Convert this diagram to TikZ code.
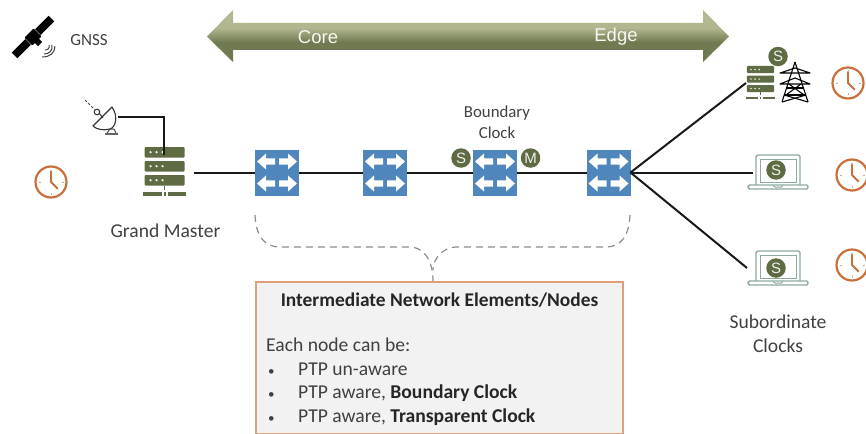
\documentclass[tikz,border=0pt]{standalone}
\usepackage{fontspec}
\setmainfont{Carlito}
\newfontfamily\arialface{Liberation Sans}
\usetikzlibrary{calc}
\definecolor{olivedk}{HTML}{5F6B42}
\definecolor{barlt}{HTML}{B3B78F}
\definecolor{bardk}{HTML}{6F7A50}
\definecolor{swblue}{HTML}{4F86BC}
\definecolor{clockor}{HTML}{C8703A}
\definecolor{lapgr}{HTML}{8FA8A0}
\definecolor{txtgr}{HTML}{404040}
\definecolor{boxedge}{HTML}{DE9F7C}
\definecolor{boxfill}{HTML}{F2F2F2}
\definecolor{dashgr}{HTML}{8C8C8C}
\pgfdeclareverticalshading{olivebar}{100bp}{color(0bp)=(bardk); color(44bp)=(bardk); color(58bp)=(barlt); color(100bp)=(barlt)}
\tikzset{
  x=1pt,y=-1pt,
  link/.style={draw=black!90,line width=2pt},
  anchorbox/.style={inner sep=0pt,outer sep=0pt,minimum width=#1,minimum height=10pt},
  switchbox/.style={fill=swblue,draw=none,inner sep=0pt,outer sep=0pt,minimum width=44pt,minimum height=46pt},
  label/.style={text=txtgr,font=\fontsize{19.6}{24}\selectfont,align=center,inner sep=0pt},
  boxtext/.style={text=txtgr,font=\fontsize{19.6}{23}\selectfont,anchor=base west,inner sep=0pt},
  badge/.style={circle,fill=olivedk,draw=none,minimum size=19.5pt,inner sep=0pt,text=white!90!olivedk,font=\arialface\fontsize{15}{15}\selectfont},
  clockpic/.pic={
    \draw[clockor,line width=2.2pt] (0,0) circle (15.5);
    \draw[clockor,line width=1.8pt,line join=round,line cap=round] (0,-11)--(0,0)--(6.5,6.5);
    \foreach \a in {0,90,180,270}{\draw[clockor!60,line width=.8pt] (\a:10.5)--(\a:12.5);}
  },
  serverpic/.pic={
    \foreach \yy in {-25,-11,3}{
      \fill[olivedk,rounded corners=1pt] (-20,\yy) rectangle (20,\yy+10.5);
      \foreach \xx in {-14,-8,-2}{\fill[white!85!olivedk] (\xx,\yy+5.2) circle (1.3);}
    }
    \draw[olivedk,line width=1.3pt] (0,13.5)--(0,18);
    \fill[olivedk] (-21.5,20) rectangle (-3,23.5);
    \fill[olivedk] (3,20) rectangle (21.5,23.5);
    \fill[olivedk] (-1,20) rectangle (1,23.5);
  },
  switchpic/.pic={
    \foreach \sx/\sy in {-1/-1,1/-1,-1/1,1/1}{
      \begin{scope}[shift={(\sx*11,\sy*11)},xscale=-\sx]
        \fill[white] (9,-3.2)--(0,-3.2)--(0,-8)--(-9,0)--(0,8)--(0,3.2)--(9,3.2)--cycle;
      \end{scope}
    }
  },
  laptoppic/.pic={
    \draw[lapgr,line width=1.4pt,rounded corners=1.5pt] (-22,15)--(-22,-15)--(22,-15)--(22,15);
    \draw[lapgr,line width=1pt] (-18,-11) rectangle (18,12);
    \draw[lapgr,line width=1.4pt,rounded corners=1.5pt,fill=white] (-30,15) rectangle (30,19);
    \draw[lapgr,line width=1pt] (-5,15.5)--(-3,17)--(3,17)--(5,15.5);
  },
}
\begin{document}
\begin{tikzpicture}
\useasboundingbox (0,0) rectangle (866,433);

% Core-Edge bar
\path[shading=olivebar] (207,36.5)--(233,10)--(233,23)--(703,23)--(703,10)--(729,36.5)--(703,62)--(703,50)--(233,50)--(233,62)--cycle;
\node[text=white!90!barlt,font=\arialface\fontsize{18.5}{20}\selectfont,inner sep=0pt] (core) at (318,37) {Core};
\node[text=white!90!barlt,font=\arialface\fontsize{18.5}{20}\selectfont,inner sep=0pt] (edge) at (616,37) {Edge};

% Satellite
\begin{scope}[shift={(33,37)},rotate=45]
  \fill[black] (-26,-4) rectangle (-7,4);
  \fill[black] (7,-4) rectangle (26,4);
  \fill[black,rounded corners=1pt] (-6.5,-5.5) rectangle (6.5,5.5);
  \fill[black] (-3,5) rectangle (3,10);
\end{scope}
\draw[black!75,line width=1pt] (49,45) .. controls (50,48) and (48,50) .. (45,50);
\draw[black!75,line width=1pt] (52,45) .. controls (53,51) and (49,54) .. (44,54);
\draw[black!75,line width=1pt] (55,46) .. controls (55,53) and (50,57) .. (42,57);
\node[label,font=\fontsize{17}{20}\selectfont] (gnss) at (89,40.5) {GNSS};

% nodes for the connectors
\node[anchorbox=58pt] (gm) at (164.5,172.5) {};
\coordinate (dish) at (118,117);
\coordinate (gmtop) at (164,155);
\node[anchorbox=28pt] (srvb) at (760,83) {};
\node[anchorbox=50pt] (lap2) at (778,172.5) {};
\node[anchorbox=50pt] (lap3) at (772,268) {};

% Connectors
\pic at (164.5,172) {serverpic};
\draw[link] (dish) -| (gmtop);

% Switches
\node[switchbox] (s1) at (277,172.5) {};
\node[switchbox] (s2) at (385,172.5) {};
\node[switchbox] (s3) at (495,172.5) {};
\node[switchbox] (s4) at (608.5,172.5) {};
\draw[link] (gm.east) -- (s1.west);
\draw[link] (s1.east) -- (s2.west);
\draw[link] (s2.east) -- (s3.west);
\draw[link] (s3.east) -- (s4.west);
\draw[link] (s4.east) -- (srvb.west);
\draw[link] (s4.east) -- (lap2.west);
\draw[link] (s4.east) -- (lap3.west);
\foreach \n in {s1,s2,s3,s4}{\pic at (\n.center) {switchpic};}

% Dish antenna
\draw[black!70,line width=1pt,dash pattern=on 2.5pt off 2pt] (85,100)--(95,110);
\draw[black!80,line width=1pt,fill=white] (97,112) circle (2.8);
\draw[black!80,line width=1.1pt,fill=white,line join=round] (112,107) .. controls (119,117) and (115,128) .. (110,129) .. controls (103,131) and (96,129) .. (93,126) -- cycle;
\draw[black!80,line width=1pt] (99,113)--(103,118);
\fill[black!60] (105,133) rectangle (118,135);
\draw[black!70,line width=1pt] (107,133)--(110,129)--(114,129)--(116,133);

% Clocks
\pic at (51,182) {clockpic};
\pic at (848,83) {clockpic};
\pic at (852,175) {clockpic};
\pic at (852,265) {clockpic};

% Boundary clock
\node[label,font=\fontsize{16.8}{21}\selectfont] (bc) at (497,122) {Boundary\\Clock};
\node[badge] (bs) at (461,158) {S};
\node[badge] (bm) at (530.5,158) {M};

% Subordinate server with tower
\begin{scope}[shift={(760.5,83)},scale=.68]
  \pic[transform shape] at (0,0) {serverpic};
\end{scope}
\node[badge] (ss) at (778,56.5) {S};
\begin{scope}[black,line width=1.1pt,line join=round]
  \draw (795,62)--(782,102);
  \draw (795,62)--(808,102);
  \draw (780,73)--(810,73)--(795,68)--cycle;
  \draw (780,84)--(810,84)--(795,78)--cycle;
  \draw (786,88)--(804,88);
  \draw (784,95)--(806,95);
  \draw (789,84)--(804,95);
  \draw (801,84)--(786,95);
  \draw (784,95)--(808,102);
  \draw (806,95)--(782,102);
\end{scope}

% Laptops
\pic at (778,170) {laptoppic};
\node[badge] (ls2) at (776,170) {S};
\pic at (778,266) {laptoppic};
\node[badge] (ls3) at (776,268) {S};

% Text labels
\node[label] (gml) at (165.5,231) {Grand Master};
\node[label] (subl) at (778,334) {Subordinate\\Clocks};

% Dashed brace
\draw[dashgr,line width=1.2pt,dash pattern=on 7pt off 5pt] (255,215) .. controls (256,236) and (264,247) .. (280,247) -- (410,247) .. controls (422,247) and (433,258) .. (433,281);
\draw[dashgr,line width=1.2pt,dash pattern=on 7pt off 5pt] (630,215) .. controls (629,236) and (621,247) .. (606,247) -- (456,247) .. controls (444,247) and (433,258) .. (433,270);

% Box
\node[draw=boxedge,fill=boxfill,line width=1.8pt,inner sep=0pt,outer sep=0pt,minimum width=367pt,minimum height=152pt] (box) at (439.5,358) {};
\node[text=black!85,font=\bfseries\fontsize{19.4}{23}\selectfont,inner sep=0pt] (title) at (439.5,300) {Intermediate Network Elements/Nodes};
\node[boxtext] (each) at (266,351) {Each node can be:};
\node[boxtext,font=\fontsize{13}{15}\selectfont] (b1) at (268,375) {•};
\node[boxtext] (t1) at (298,375) {PTP un-aware};
\node[boxtext,font=\fontsize{13}{15}\selectfont] (b2) at (268,398) {•};
\node[boxtext] (t2) at (298,398) {PTP aware, {\bfseries\color{black!85}Boundary Clock}};
\node[boxtext,font=\fontsize{13}{15}\selectfont] (b3) at (268,422) {•};
\node[boxtext] (t3) at (298,422) {PTP aware, {\bfseries\color{black!85}Transparent Clock}};
\end{tikzpicture}
\end{document}
